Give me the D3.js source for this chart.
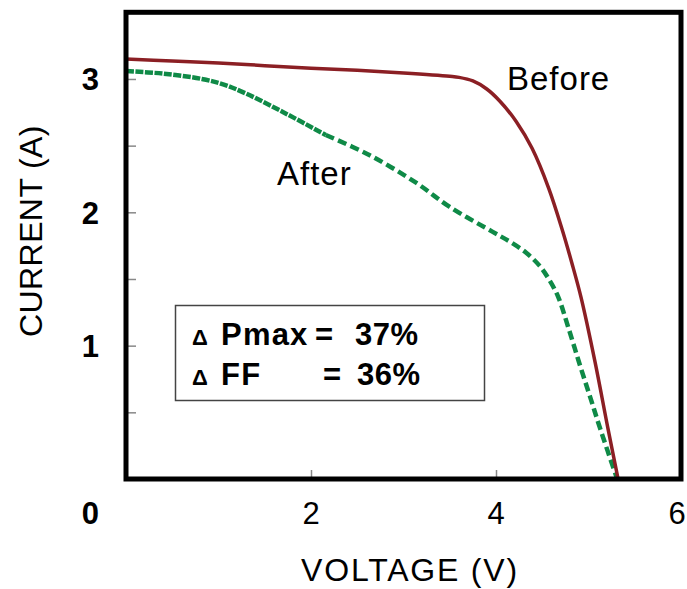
<!DOCTYPE html>
<html>
<head>
<meta charset="utf-8">
<script src="https://cdn.jsdelivr.net/npm/d3@7"></script>
<style>
  html, body { margin: 0; padding: 0; background: #fff; }
  svg { display: block; font-family: "Liberation Sans", Arial, sans-serif; }
</style>
</head>
<body>
<svg id="chart" width="687" height="589"></svg>
<script>
// ---- data ----
const beforeV = [0, 0.5, 1, 1.5, 2, 2.5, 3, 3.5, 3.6, 3.75, 3.9, 4.04, 4.22, 4.39, 4.57, 4.72, 4.82, 4.92, 5.07, 5.21, 5.32];
const beforeI = [3.15, 3.135, 3.12, 3.10, 3.08, 3.065, 3.045, 3.02, 3.012, 2.985, 2.925, 2.835, 2.68, 2.48, 2.18, 1.86, 1.62, 1.36, 0.88, 0.38, 0];
const afterV = [0, 0.4, 0.82, 1.05, 1.3, 1.73, 2.16, 2.63, 3.14, 3.5, 3.96, 4.15, 4.32, 4.47, 4.57, 4.67, 4.78, 4.9, 5.02, 5.13, 5.31];
const afterI = [3.06, 3.04, 3.0, 2.96, 2.89, 2.74, 2.58, 2.43, 2.22, 2.04, 1.855, 1.78, 1.70, 1.60, 1.50, 1.37, 1.14, 0.87, 0.61, 0.37, 0];
const afterSolidUntil = 2.16;
const xTickLabels = [2, 4, 6];
const yTickLabels = [1, 2, 3];
const yMinorTicks = [0.5, 1, 1.5, 2, 2.5, 3];
const xInnerTicks = [2, 4];
const seriesNames = ["Before", "After"];
const boxLabels = ["Pmax", "FF"];
const boxValues = ["37%", "36%"];

const svg = d3.select("#chart");
const x = d3.scaleLinear().domain([0, 6]).range([126, 681]);
const y = d3.scaleLinear().domain([0, 3.5]).range([479, 12.3]);

const red = "#8b1f24", green = "#0f8a47";

// ticks (inside)
const gx = svg.append("g").attr("transform", `translate(0,${y(0)})`)
  .call(d3.axisTop(x).tickValues(xInnerTicks).tickSize(9).tickFormat(""));
gx.select(".domain").remove();
gx.selectAll("line").attr("stroke", "#888").attr("stroke-width", 1.5);

const gy = svg.append("g").attr("transform", `translate(${x(0)},0)`)
  .call(d3.axisRight(y).tickValues(yMinorTicks).tickSize(10).tickFormat(""));
gy.select(".domain").remove();
gy.selectAll("line").attr("stroke", "#888").attr("stroke-width", 1.5);

// curves
const line = d3.line().x(d => x(d[0])).y(d => y(d[1])).curve(d3.curveCatmullRom.alpha(0.5));
const beforePts = beforeV.map((v, i) => [v, beforeI[i]]);
const afterPts = afterV.map((v, i) => [v, afterI[i]]);

svg.append("path").attr("d", line(afterPts.filter(d => d[0] <= afterSolidUntil)))
  .attr("fill", "none").attr("stroke", green).attr("stroke-width", 4.5)
  .attr("stroke-dasharray", "8,1.5");
svg.append("path").attr("d", line(afterPts.filter(d => d[0] >= afterSolidUntil)))
  .attr("fill", "none").attr("stroke", green).attr("stroke-width", 4.5)
  .attr("stroke-dasharray", "9,4.5");
svg.append("path").attr("d", line(beforePts))
  .attr("fill", "none").attr("stroke", red).attr("stroke-width", 3.5);

// frame
svg.append("rect")
  .attr("x", x(0)).attr("y", y(3.5))
  .attr("width", x(6) - x(0)).attr("height", y(0) - y(3.5))
  .attr("fill", "none").attr("stroke", "#000").attr("stroke-width", 5);

// tick labels
svg.selectAll(".xl").data(xTickLabels).enter().append("text")
  .attr("x", d => Math.min(x(d), 677)).attr("y", 524)
  .attr("text-anchor", "middle").attr("font-size", 31).attr("fill", "#000")
  .text(d => d);
svg.selectAll(".yl").data(yTickLabels).enter().append("text")
  .attr("x", 99).attr("y", d => y(d) + 11.5)
  .attr("text-anchor", "end").attr("font-size", 31).attr("font-weight", "bold").attr("fill", "#000")
  .text(d => d);
svg.append("text").attr("x", 99).attr("y", 524)
  .attr("text-anchor", "end").attr("font-size", 31).attr("font-weight", "bold").text("0");

// axis titles
svg.append("text").attr("x", 410).attr("y", 581)
  .attr("text-anchor", "middle").attr("font-size", 32).attr("letter-spacing", 1.8).text("VOLTAGE (V)");
svg.append("text").attr("transform", "translate(42,231) rotate(-90)")
  .attr("text-anchor", "middle").attr("font-size", 32).attr("letter-spacing", 0.4).text("CURRENT (A)");

// series labels
svg.append("text").attr("x", 507).attr("y", 90).attr("font-size", 33).attr("letter-spacing", 1).text(seriesNames[0]);
svg.append("text").attr("x", 277).attr("y", 185).attr("font-size", 33).attr("letter-spacing", 1).text(seriesNames[1]);

// box
svg.append("rect").attr("x", 175.5).attr("y", 305.5).attr("width", 309).attr("height", 95)
  .attr("fill", "#fff").attr("stroke", "#444").attr("stroke-width", 1.5);
const lineY = [345, 385];
const eqX = [315, 323];
const valX = [355, 357];
boxLabels.forEach((lab, i) => {
  svg.append("text").attr("x", 192).attr("y", lineY[i]).attr("font-size", 22).attr("font-weight", "bold").text("Δ");
  svg.append("text").attr("x", 221).attr("y", lineY[i]).attr("font-size", 31).attr("font-weight", "bold")
    .attr("letter-spacing", 1.2).text(lab);
  svg.append("text").attr("x", eqX[i]).attr("y", lineY[i]).attr("font-size", 31).attr("font-weight", "bold").text("=");
  svg.append("text").attr("x", valX[i]).attr("y", lineY[i]).attr("font-size", 31).attr("font-weight", "bold")
    .attr("letter-spacing", 0.5).text(boxValues[i]);
});
</script>
</body>
</html>
